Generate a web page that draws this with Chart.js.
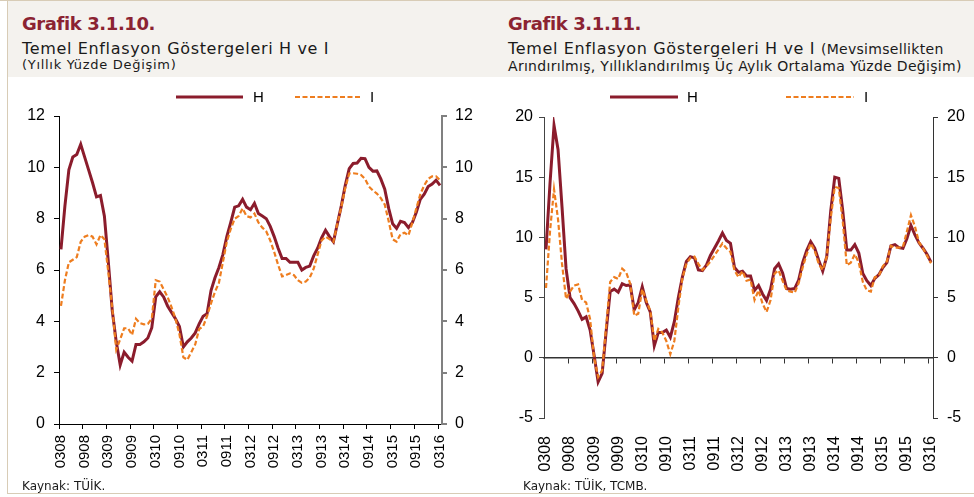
<!DOCTYPE html>
<html>
<head>
<meta charset="utf-8">
<script src="https://cdn.jsdelivr.net/npm/chart.js@4.4.1/dist/chart.umd.min.js"></script>
<style>
body { margin: 0; background: #fff; }
#page { position: relative; width: 974px; height: 497px; overflow: hidden; background: #fff; font-family: "DejaVu Sans", sans-serif; color: #1a1a1a; }
.head { position: absolute; left: 8px; top: 1px; width: 966px; height: 76px; background: #f4f2ee; }
.rule { position: absolute; background: #d8ccb6; }
.txt { position: absolute; white-space: nowrap; line-height: 1; }
.ttl { font-weight: bold; font-size: 18px; letter-spacing: -0.4px; color: #8b2332; }
.sub { font-size: 16px; letter-spacing: 0.65px; }
.small { font-size: 13px; letter-spacing: 0.7px; }
.small2 { font-size: 14px; letter-spacing: 0.3px; }
.src { font-size: 12px; }
canvas { position: absolute; }
</style>
</head>
<body>
<div id="page">
  <div class="head"></div>
  <div class="rule" style="left:0;top:0;width:974px;height:1px"></div>
  <div class="rule" style="left:7px;top:0;width:1px;height:494px"></div>
  <div class="rule" style="left:7px;top:493px;width:967px;height:1px"></div>

  <div class="txt ttl" style="left:22px;top:15px">Grafik 3.1.10.</div>
  <div class="txt sub" style="left:22px;top:41px">Temel Enflasyon Göstergeleri H ve I</div>
  <div class="txt small" style="left:22px;top:58px">(Yıllık Yüzde Değişim)</div>

  <div class="txt ttl" style="left:508px;top:15px">Grafik 3.1.11.</div>
  <div class="txt sub" style="left:508px;top:41px">Temel Enflasyon Göstergeleri H ve I <span class="small2">(Mevsimsellikten</span></div>
  <div class="txt small2" style="left:508px;top:59px">Arındırılmış, Yıllıklandırılmış Üç Aylık Ortalama Yüzde Değişim)</div>

  <canvas id="leftChart" width="490" height="400" style="left:0;top:80px"></canvas>
  <canvas id="rightChart" width="484" height="400" style="left:490px;top:80px"></canvas>

  <div class="txt src" style="left:22px;top:480px">Kaynak: TÜİK.</div>
  <div class="txt src" style="left:523px;top:480px">Kaynak: TÜİK, TCMB.</div>
</div>

<script>
// months 0308 .. 0316 (MMYY)
const months = [];
for (let y = 2008; y <= 2016; y++) {
    for (let m = 1; m <= 12; m++) {
        if (y === 2008 && m < 3) continue;
        if (y === 2016 && m > 3) break;
        months.push(String(m).padStart(2, '0') + String(y % 100).padStart(2, '0'));
    }
}

// Grafik 3.1.10 - annual % change
const leftH = [6.8, 8.5, 9.9, 10.4, 10.5, 10.9, 10.4, 9.9, 9.4, 8.85, 8.9, 8.1,
    6.3, 4.4, 3.2, 2.3, 2.8, 2.6, 2.45, 3.1, 3.1, 3.2, 3.35, 3.75,
    4.95, 5.15, 4.95, 4.6, 4.35, 4.1, 3.8, 3.0, 3.2, 3.35, 3.55, 3.9,
    4.2, 4.3, 5.2, 5.7, 6.1, 6.6, 7.3, 7.85, 8.45, 8.5, 8.75, 8.45,
    8.35, 8.6, 8.2, 8.1, 8.0, 7.7, 7.3, 6.85, 6.45, 6.45, 6.3, 6.3,
    6.3, 6.0, 6.1, 6.15, 6.55, 6.85, 7.25, 7.55, 7.3, 7.1, 7.8, 8.5,
    9.3, 9.95, 10.15, 10.17, 10.35, 10.34, 10.0, 9.85, 9.86, 9.55, 9.15, 8.4,
    7.8, 7.62, 7.9, 7.85, 7.65, 7.85, 8.25, 8.75, 8.95, 9.25, 9.35, 9.5,
    9.3];
const leftI = [4.6, 5.6, 6.3, 6.4, 6.5, 7.1, 7.3, 7.36, 7.3, 7.0, 7.36, 7.2,
    5.9, 4.5, 2.9, 3.3, 3.73, 3.73, 3.47, 4.1, 3.93, 3.88, 3.9, 4.1,
    5.6, 5.55, 5.25, 4.95, 4.55, 4.1, 3.5, 2.6, 2.5, 2.8, 3.1, 3.7,
    3.8, 4.2, 4.7, 5.15, 5.5, 6.3, 7.1, 7.6, 8.0, 8.1, 8.4, 8.1,
    8.05, 8.2, 7.85, 7.65, 7.5, 7.15, 6.7, 6.2, 5.75, 5.8, 5.87, 5.8,
    5.6, 5.5, 5.55, 5.7, 6.05, 6.6, 7.15, 7.3, 7.2, 7.1, 7.8, 8.45,
    9.2, 9.76, 9.77, 9.75, 9.7, 9.55, 9.25, 9.1, 8.98, 8.8, 8.55, 7.9,
    7.2, 7.1, 7.4, 7.45, 7.35, 7.85, 8.4, 8.95, 9.3, 9.55, 9.65, 9.65,
    9.5];

// Grafik 3.1.11 - seasonally adjusted, annualised 3-month average
const rightH = [9.0, 14.5, 19.3, 17.3, 12.5, 7.4, 5.0, 4.5, 3.9, 3.2, 3.4, 2.3,
    0.2, -2.0, -1.3, 2.2, 5.5, 5.7, 5.45, 6.15, 6.0, 6.05, 4.0, 4.6,
    5.9, 4.6, 3.8, 1.0, 2.1, 2.1, 2.3, 1.7, 3.0, 5.0, 6.7, 8.0,
    8.4, 8.3, 7.3, 7.25, 7.7, 8.5, 9.1, 9.7, 10.36, 9.75, 9.5, 7.5,
    7.1, 7.2, 6.8, 6.8, 5.6, 6.0, 5.3, 4.75, 5.7, 7.4, 7.8, 7.05,
    5.75, 5.7, 5.75, 6.45, 7.9, 8.9, 9.65, 9.1, 8.1, 7.2, 8.4, 12.2,
    15.0, 14.9, 12.2, 8.95, 8.95, 9.4, 8.7, 7.0, 6.4, 6.0, 6.6, 6.9,
    7.5, 7.9, 9.3, 9.4, 9.15, 9.1, 9.9, 11.0, 10.2, 9.55, 9.1, 8.6,
    7.95];
const rightI = [5.8, 10.5, 14.0, 11.5, 7.8, 4.9, 5.5, 6.0, 6.1, 4.8, 4.6, 3.2,
    0.0, -1.6, -1.05, 2.6, 6.3, 6.7, 6.55, 7.4, 7.1, 6.15, 3.5, 3.65,
    5.7, 4.75, 3.9, 1.4, 2.4, 2.1, 1.4, 0.3, 1.4, 4.2, 6.6, 7.8,
    8.3, 8.4, 7.8, 7.3, 7.6, 8.0, 8.5, 9.0, 9.5, 9.1, 8.8, 7.26,
    6.7, 7.2, 6.4, 6.5, 4.8, 5.6, 4.5, 3.8, 4.8, 7.0, 7.26, 6.4,
    5.6, 5.5, 5.4, 6.2, 7.5, 8.6, 9.5, 8.9, 7.8, 7.3, 8.4, 11.6,
    14.2, 14.1, 11.3, 7.7, 7.9, 8.6, 7.9, 6.3, 5.6, 5.5, 6.7, 6.8,
    7.6, 8.0, 9.3, 9.15, 9.15, 9.2, 10.5, 11.85, 10.9, 9.6, 9.1, 8.5,
    7.85];

const colorH = '#8b1c2c';
const colorI = '#ee7d1f';
const tickFont = { family: '"Liberation Sans", Arial, sans-serif', size: 15 };

// legend drawn as line samples above the plot
const legendLines = {
    id: 'legendLines',
    afterDraw(chart, args, opts) {
        const ctx = chart.ctx;
        chart.data.datasets.forEach((ds, k) => {
            const x = opts.x[k];
            ctx.save();
            ctx.strokeStyle = ds.borderColor;
            ctx.lineWidth = ds.borderWidth;
            ctx.setLineDash(ds.borderDash || []);
            ctx.beginPath();
            ctx.moveTo(x, opts.y);
            ctx.lineTo(x + opts.len, opts.y);
            ctx.stroke();
            ctx.setLineDash([]);
            ctx.fillStyle = '#000';
            ctx.font = '15px "Liberation Sans", Arial, sans-serif';
            ctx.textBaseline = 'middle';
            ctx.fillText(ds.label, x + opts.len + opts.gap[k], opts.y + 1);
            ctx.restore();
        });
    }
};

function yAxis(cfg, side) {
    const s = cfg[side];
    return {
        position: side === 'y' ? 'left' : 'right',
        min: cfg.min, max: cfg.max,
        ticks: { stepSize: cfg.step, padding: s.pad, color: '#000', font: { family: tickFont.family, size: cfg.ySize } },
        grid: { drawOnChartArea: false, tickLength: 5, color: s.color, lineWidth: s.width },
        border: { color: s.color, width: s.width },
        afterFit(scale) { scale.width = s.w; }
    };
}

function tickMarks(color) {
    return ctx => (ctx.index !== undefined && ctx.index % 6 === 0) ? color : 'rgba(0,0,0,0)';
}

function makeChart(id, cfg) {
    const scales = {
        x: {
            type: 'category',
            offset: true,
            grid: cfg.zeroAxis
                ? { display: false }
                : { offset: true, drawOnChartArea: false, tickLength: 5, color: tickMarks('#000') },
            border: { display: !cfg.zeroAxis, color: '#000' },
            ticks: {
                autoSkip: false, minRotation: 90, maxRotation: 90,
                padding: cfg.xPad, color: '#000',
                font: { family: tickFont.family, size: cfg.xSize },
                callback(val, i) { return i % 6 === 0 ? this.getLabelForValue(val) : ''; }
            },
            afterFit(scale) { scale.height = cfg.xH; }
        },
        y: yAxis(cfg, 'y'),
        y2: yAxis(cfg, 'y2')
    };
    if (cfg.zeroAxis) {
        // axis line crossing at zero, labels stay at the bottom
        scales.xz = {
            type: 'category',
            labels: months,
            offset: true,
            position: { y: 0 },
            grid: { offset: true, drawOnChartArea: false, tickLength: 5, color: tickMarks('#333'), lineWidth: 1 },
            border: { color: '#333', width: 1.5 },
            ticks: { display: false },
            afterFit(scale) { scale.height = 0; }
        };
    }
    return new Chart(document.getElementById(id), {
        type: 'line',
        data: {
            labels: months,
            datasets: [
                { label: 'H', data: cfg.h, borderColor: colorH, borderWidth: 3, pointRadius: 0, order: 1 },
                { label: 'I', data: cfg.i, borderColor: colorI, borderWidth: 2.2, borderDash: [5, 2.5], pointRadius: 0, order: 0 }
            ]
        },
        options: {
            responsive: false,
            animation: false,
            layout: { padding: { top: cfg.top, left: 0, right: 0, bottom: 0 } },
            plugins: {
                legend: { display: false },
                tooltip: { enabled: false },
                legendLines: cfg.legend
            },
            scales: scales
        },
        plugins: [legendLines]
    });
}

makeChart('leftChart', {
    h: leftH, i: leftI,
    min: 0, max: 12, step: 2, ySize: 16,
    y: { w: 59, pad: 9, color: '#000', width: 1 },
    y2: { w: 48, pad: 8, color: '#808080', width: 2 },
    top: 36, xH: 56, xPad: 6, xSize: 15,
    legend: { x: [176, 295], y: 17, len: 67, gap: [10, 8] }
});

makeChart('rightChart', {
    h: rightH, i: rightI,
    min: -5, max: 20, step: 5, ySize: 16,
    zeroAxis: true,
    y: { w: 54, pad: 6, color: '#444', width: 1 },
    y2: { w: 41, pad: 9, color: '#333', width: 1 },
    top: 37, xH: 62, xPad: 10, xSize: 16,
    legend: { x: [120, 296], y: 17, len: 68, gap: [9, 10] }
});
</script>
</body>
</html>
